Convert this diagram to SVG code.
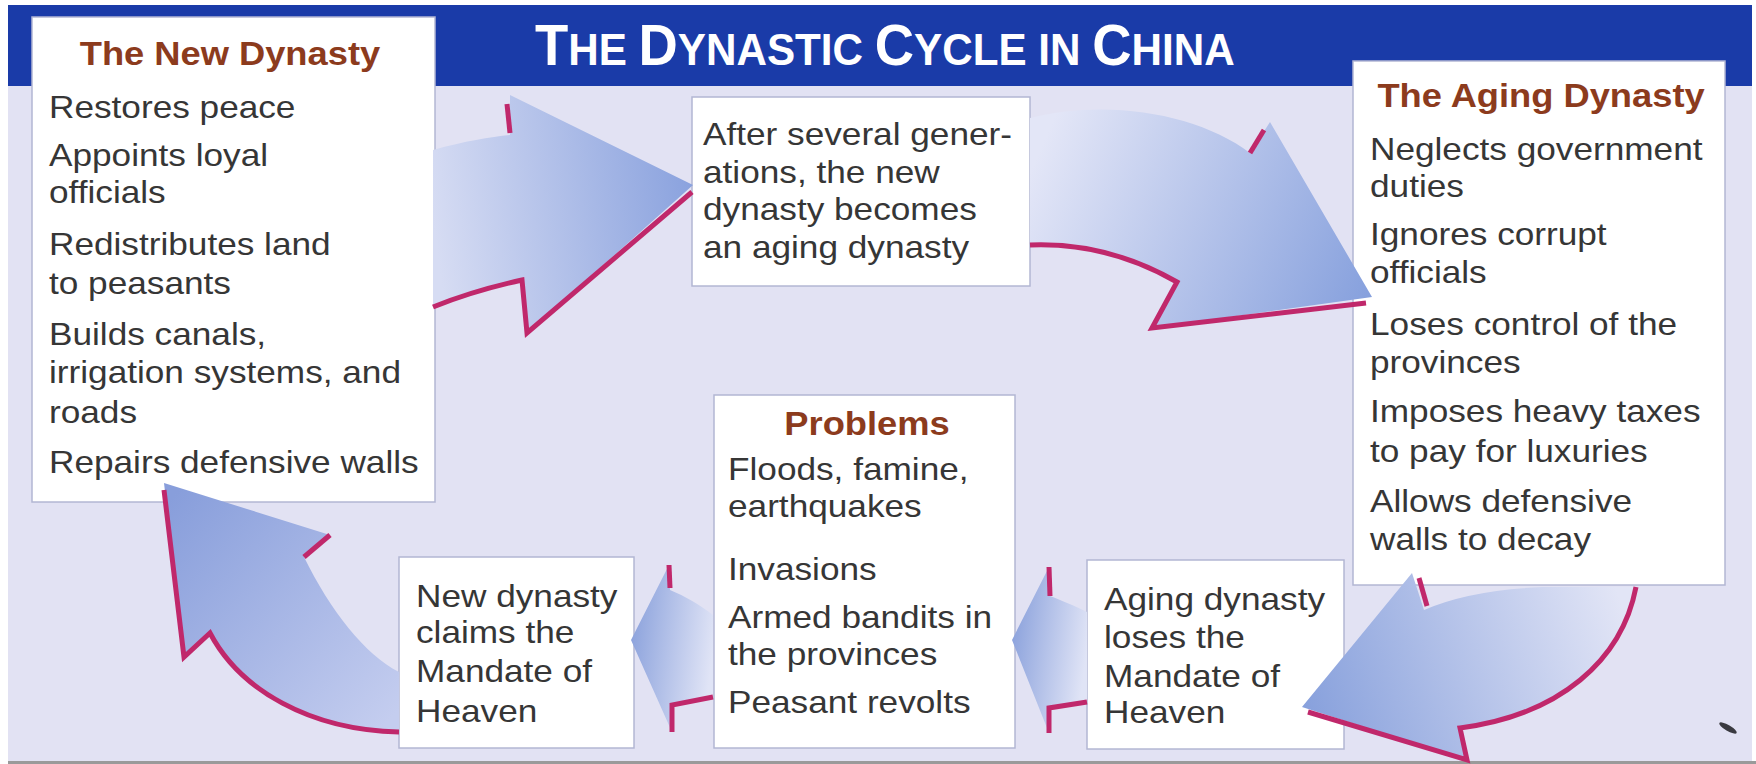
<svg xmlns="http://www.w3.org/2000/svg" width="1756" height="764" viewBox="0 0 1756 764">
  <defs>
    <style>
      .box { fill: #ffffff; stroke: #b3b7d3; stroke-width: 1.5; }
      .body { font-family: "Liberation Sans", Arial, sans-serif; font-size: 32px; fill: #363636; }
      .head { font-family: "Liberation Sans", Arial, sans-serif; font-size: 33px; font-weight: bold; fill: #8c3b1d; text-anchor: middle; }
      .title { font-family: "Liberation Sans", Arial, sans-serif; font-weight: bold; fill: #ffffff; }
      .edge { fill: none; stroke: #c0286b; stroke-width: 5; stroke-linejoin: miter; stroke-linecap: butt; }
    </style>
    <linearGradient id="g1" gradientUnits="userSpaceOnUse" x1="433" y1="220" x2="693" y2="185">
      <stop offset="0" stop-color="#d6dcf3"/>
      <stop offset="1" stop-color="#8aa2de"/>
    </linearGradient>
    <linearGradient id="g2" gradientUnits="userSpaceOnUse" x1="1040" y1="150" x2="1372" y2="297">
      <stop offset="0" stop-color="#e3e6f7"/>
      <stop offset="1" stop-color="#86a0dd"/>
    </linearGradient>
    <linearGradient id="g3" gradientUnits="userSpaceOnUse" x1="1620" y1="600" x2="1302" y2="707">
      <stop offset="0" stop-color="#e2e5f6"/>
      <stop offset="1" stop-color="#87a0dc"/>
    </linearGradient>
    <linearGradient id="g4" gradientUnits="userSpaceOnUse" x1="1087" y1="650" x2="1012" y2="640">
      <stop offset="0" stop-color="#e0e4f6"/>
      <stop offset="1" stop-color="#8ea4dd"/>
    </linearGradient>
    <linearGradient id="g5" gradientUnits="userSpaceOnUse" x1="713" y1="650" x2="631" y2="640">
      <stop offset="0" stop-color="#e0e4f6"/>
      <stop offset="1" stop-color="#8ea4dd"/>
    </linearGradient>
    <linearGradient id="g6" gradientUnits="userSpaceOnUse" x1="399" y1="710" x2="170" y2="500">
      <stop offset="0" stop-color="#c4cdef"/>
      <stop offset="1" stop-color="#889edb"/>
    </linearGradient>
  </defs>

  <rect x="0" y="0" width="1756" height="764" fill="#ffffff"/>
  <rect x="8" y="5" width="1744" height="757" fill="#e2e2f3"/>
  <rect x="8" y="761" width="1748" height="3" fill="#9a9a9a"/>
  <rect id="header" x="8" y="5" width="1744" height="81" fill="#1a3ba8"/>
  <g transform="translate(535,65) scale(0.938,1)">
    <text class="title" x="0" y="0"><tspan font-size="58">T</tspan><tspan font-size="45">HE </tspan><tspan font-size="58">D</tspan><tspan font-size="45">YNASTIC </tspan><tspan font-size="58">C</tspan><tspan font-size="45">YCLE IN </tspan><tspan font-size="58">C</tspan><tspan font-size="45">HINA</tspan></text>
  </g>

  <g id="new-dynasty">
    <rect class="box" x="32" y="17" width="403" height="485"/>
    <g transform="translate(49,0) scale(1.1,1)">
      <text class="head" x="164.5" y="65">The New Dynasty</text>
      <text class="body" x="0" y="118">Restores peace</text>
      <text class="body" x="0" y="166">Appoints loyal</text>
      <text class="body" x="0" y="203">officials</text>
      <text class="body" x="0" y="255">Redistributes land</text>
      <text class="body" x="0" y="294">to peasants</text>
      <text class="body" x="0" y="345">Builds canals,</text>
      <text class="body" x="0" y="383">irrigation systems, and</text>
      <text class="body" x="0" y="423">roads</text>
      <text class="body" x="0" y="473">Repairs defensive walls</text>
    </g>
  </g>

  <g id="after-generations">
    <rect class="box" x="692" y="97" width="338" height="189"/>
    <g transform="translate(703,0) scale(1.1,1)">
      <text class="body" x="0" y="145">After several gener-</text>
      <text class="body" x="0" y="183">ations, the new</text>
      <text class="body" x="0" y="220">dynasty becomes</text>
      <text class="body" x="0" y="258">an aging dynasty</text>
    </g>
  </g>

  <g id="aging-dynasty">
    <rect class="box" x="1353" y="61" width="372" height="524"/>
    <g transform="translate(1370,0) scale(1.1,1)">
      <text class="head" x="155.5" y="107">The Aging Dynasty</text>
      <text class="body" x="0" y="160">Neglects government</text>
      <text class="body" x="0" y="197">duties</text>
      <text class="body" x="0" y="245">Ignores corrupt</text>
      <text class="body" x="0" y="283">officials</text>
      <text class="body" x="0" y="335">Loses control of the</text>
      <text class="body" x="0" y="373">provinces</text>
      <text class="body" x="0" y="422">Imposes heavy taxes</text>
      <text class="body" x="0" y="462">to pay for luxuries</text>
      <text class="body" x="0" y="512">Allows defensive</text>
      <text class="body" x="0" y="550">walls to decay</text>
    </g>
  </g>

  <g id="problems">
    <rect class="box" x="714" y="395" width="301" height="353"/>
    <g transform="translate(728,0) scale(1.1,1)">
      <text class="head" x="126.4" y="435">Problems</text>
      <text class="body" x="0" y="480">Floods, famine,</text>
      <text class="body" x="0" y="517">earthquakes</text>
      <text class="body" x="0" y="580">Invasions</text>
      <text class="body" x="0" y="628">Armed bandits in</text>
      <text class="body" x="0" y="665">the provinces</text>
      <text class="body" x="0" y="713">Peasant revolts</text>
    </g>
  </g>

  <g id="new-dynasty-claims">
    <rect class="box" x="399" y="557" width="235" height="191"/>
    <g transform="translate(416,0) scale(1.1,1)">
      <text class="body" x="0" y="607">New dynasty</text>
      <text class="body" x="0" y="643">claims the</text>
      <text class="body" x="0" y="682">Mandate of</text>
      <text class="body" x="0" y="722">Heaven</text>
    </g>
  </g>

  <g id="aging-dynasty-loses">
    <rect class="box" x="1087" y="560" width="257" height="189"/>
    <g transform="translate(1104,0) scale(1.1,1)">
      <text class="body" x="0" y="610">Aging dynasty</text>
      <text class="body" x="0" y="648">loses the</text>
      <text class="body" x="0" y="687">Mandate of</text>
      <text class="body" x="0" y="723">Heaven</text>
    </g>
  </g>

  <g id="connectors">
    <!-- New Dynasty -> After several generations -->
    <path fill="url(#g1)" d="M433,150 C465,141 490,137 510,135 L510,95 L693,185 L527,333 L522,280 C490,287 460,296 433,307 Z"/>
    <path class="edge" d="M507,104 L510,133"/>
    <path class="edge" d="M433,307 C460,296 490,287 522,280 L527,333 L692,192"/>

    <!-- After several generations -> Aging Dynasty -->
    <path fill="url(#g2)" d="M1030,118 C1110,98 1200,115 1250,153 L1270,122 L1372,297 L1152,328 L1177,282 C1130,255 1080,243 1030,245 Z"/>
    <path class="edge" d="M1250,153 L1264,130"/>
    <path class="edge" d="M1030,245 C1080,243 1130,255 1177,282 L1152,328 L1366,303"/>

    <!-- Aging Dynasty -> Aging dynasty loses the Mandate -->
    <path fill="url(#g3)" d="M1543,587 Q1470,590 1424,610 L1412,573 L1302,707 L1467,760 L1460,728 C1560,715 1622,660 1636,587 Z"/>
    <path class="edge" d="M1419,578 L1427,606"/>
    <path class="edge" d="M1636,587 C1622,660 1560,715 1460,728 L1467,760 L1308,712"/>

    <!-- Aging dynasty loses -> Problems -->
    <path fill="url(#g4)" d="M1087,612 C1075,606 1060,600 1050,596 L1049,567 L1012,640 L1049,733 L1049,708 C1062,705 1075,703 1087,702 Z"/>
    <path class="edge" d="M1049,567 L1050,596"/>
    <path class="edge" d="M1087,702 L1049,708 L1049,733"/>

    <!-- Problems -> New dynasty claims -->
    <path fill="url(#g5)" d="M713,615 C700,605 685,596 670,590 L669,565 L631,640 L672,732 L672,705 C688,701 700,699 713,697 Z"/>
    <path class="edge" d="M669,565 L670,588"/>
    <path class="edge" d="M713,697 L672,705 L672,732"/>

    <!-- New dynasty claims -> New Dynasty -->
    <path fill="url(#g6)" d="M399,672 C365,655 330,610 304,557 L330,535 L164,483 L184,657 L210,633 C240,690 310,730 399,732 Z"/>
    <path class="edge" d="M330,535 L304,557"/>
    <path class="edge" d="M164,490 L184,657 L210,633 C240,690 310,730 399,732"/>
  </g>

  <ellipse cx="1728" cy="728" rx="10" ry="3" transform="rotate(30 1728 728)" fill="#3a3a40"/>
</svg>
